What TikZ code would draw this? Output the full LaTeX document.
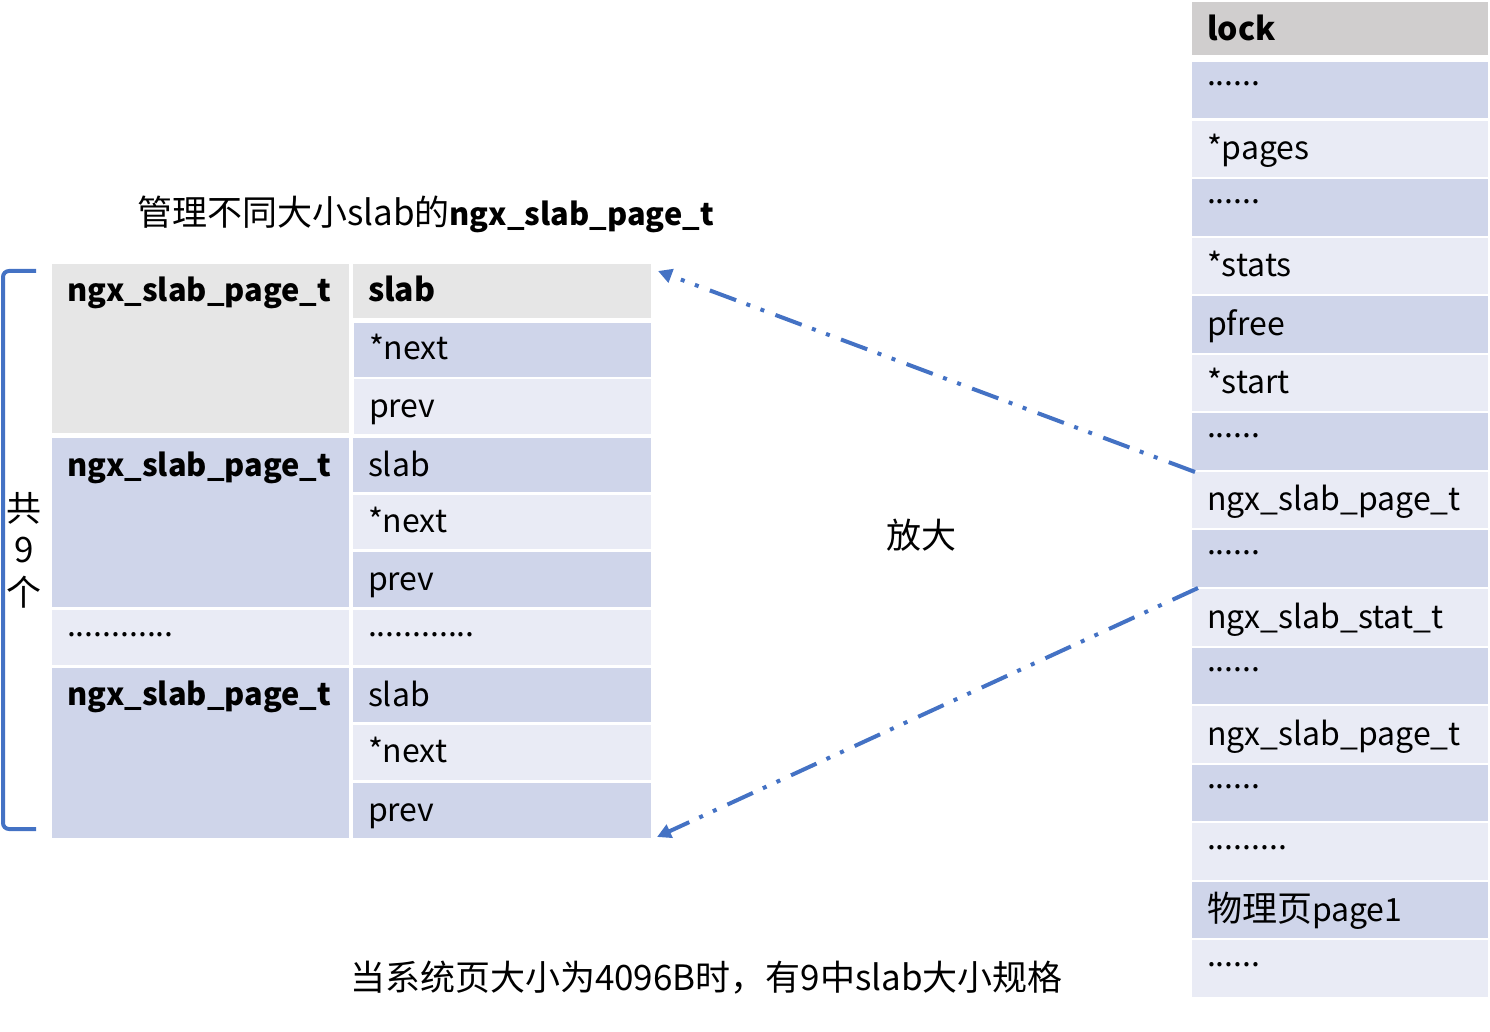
\documentclass[tikz,border=0pt]{standalone}
\usepackage{fontspec}
\setmainfont{Noto Sans CJK SC}
\usetikzlibrary{arrows.meta,calc}
\definecolor{lockgray}{HTML}{D0CECE}
\definecolor{topgray}{HTML}{E6E6E6}
\definecolor{darkrow}{HTML}{CFD5EA}
\definecolor{lightrow}{HTML}{E9EBF5}
\definecolor{linkblue}{HTML}{4472C4}
\newcommand\cellbox[6]{\node[cell, fill=#6, minimum width=#4*0.5pt, minimum height=#5*0.5pt] (#1) at (#2,#3) {};}
\newcommand\celltext[4]{\node[txt,#3] (#1t) at ($(#1.north west)+(15,#2)$) {#4};}
\newcommand\cjkbig{\fontsize{17.5}{21}\selectfont}
\begin{document}
\begin{tikzpicture}[x=0.5pt,y=-0.5pt,
  cell/.style={draw=none, inner sep=0pt, outer sep=0pt, anchor=north west},
  txt/.style={anchor=base west, inner sep=0pt, outer sep=0pt, font=\fontsize{16}{19}\selectfont},
  boldtxt/.style={font=\fontsize{16}{19}\selectfont\bfseries},
  boldlbl/.style={font=\fontsize{15.4}{19}\selectfont\bfseries},
  plain/.style={inner sep=0pt, outer sep=0pt, font=\cjkbig},
  link/.style={linkblue, line width=2pt, dash pattern=on 14pt off 6pt on 2pt off 5.5pt on 2pt off 5.5pt, -{Triangle[length=7pt,width=7pt]}}
]
\useasboundingbox (0,0) rectangle (1490,1032);
% ---------- right column ----------
\cellbox{lock}{1192}{2}{296}{53.5}{lockgray}
\celltext{lock}{39}{boldtxt}{lock}
\foreach \k/\lab/\col/\dy in {
  1/{......}/darkrow/24,
  2/{*pages}/lightrow/39,
  3/{......}/darkrow/24,
  4/{*stats}/lightrow/39,
  5/{pfree}/darkrow/39,
  6/{*start}/lightrow/39,
  7/{......}/darkrow/24,
  8/{ngx\_slab\_page\_t}/lightrow/39,
  9/{......}/darkrow/24,
  10/{ngx\_slab\_stat\_t}/lightrow/39,
  11/{......}/darkrow/24,
  12/{ngx\_slab\_page\_t}/lightrow/39,
  13/{......}/darkrow/24,
  14/{.........}/lightrow/26,
  15/{{\cjkbig 物理页}page1}/darkrow/40,
  16/{......}/lightrow/26}{
  \pgfmathsetmacro\ytop{62+(\k-1)*58.56}
  \cellbox{r\k}{1192}{\ytop}{296}{56.5}{\col}
  \celltext{r\k}{\dy}{}{\lab}
}
% ---------- left table ----------
\cellbox{g1}{52}{264}{297}{169}{topgray}
\celltext{g1}{38}{boldlbl}{ngx\_slab\_page\_t}
\cellbox{s1}{353}{264}{298}{54}{topgray}
\celltext{s1}{38}{boldtxt}{slab}
\cellbox{n1}{354}{323}{297}{54}{darkrow}
\celltext{n1}{37}{}{*next}
\cellbox{p1}{354}{379}{297}{55}{lightrow}
\celltext{p1}{38}{}{prev}

\cellbox{g2}{52}{438}{297}{169}{darkrow}
\celltext{g2}{38}{boldlbl}{ngx\_slab\_page\_t}
\cellbox{s2}{353}{438}{298}{54}{darkrow}
\celltext{s2}{38}{}{slab}
\cellbox{n2}{353}{495}{298}{54}{lightrow}
\celltext{n2}{37}{}{*next}
\cellbox{p2}{353}{552}{298}{55}{darkrow}
\celltext{p2}{38}{}{prev}

\cellbox{d1}{52}{610}{297}{55}{lightrow}
\celltext{d1}{26}{}{............}
\cellbox{d2}{353}{610}{298}{55}{lightrow}
\celltext{d2}{26}{}{............}

\cellbox{g3}{52}{668}{297}{170}{darkrow}
\celltext{g3}{37}{boldlbl}{ngx\_slab\_page\_t}
\cellbox{s3}{353}{668}{298}{54}{darkrow}
\celltext{s3}{38}{}{slab}
\cellbox{n3}{353}{725}{298}{55}{lightrow}
\celltext{n3}{37}{}{*next}
\cellbox{p3}{353}{783}{298}{55}{darkrow}
\celltext{p3}{38}{}{prev}
% ---------- labels ----------
\node[plain, anchor=base west] (title) at (137,226) {管理不同大小slab的{\fontsize{15.4}{19}\selectfont\bfseries ngx\_slab\_page\_t}};
\node[plain] (zoomlbl) at (921,535) {放大};
\node[plain, anchor=base west] (bottom) at (350,990) {当系统页大小为4096B时，有9中slab大小规格};
\node[plain] (c1) at (24,508) {共};
\node[plain] (c2) at (24,550) {9};
\node[plain] (c3) at (24,592) {个};
% bracket
\draw[linkblue, line width=2pt, rounded corners=3pt] (36,271) -- (3,271) -- (3,829) -- (36,829);
% ---------- connectors ----------
\coordinate (tipA) at (658,271);
\coordinate (tipB) at (657,837);
\coordinate (srcA) at (1195,472);
\coordinate (srcB) at (1198,588);
\draw[link] (srcA) -- (tipA);
\draw[link] (srcB) -- (tipB);
\end{tikzpicture}
\end{document}
